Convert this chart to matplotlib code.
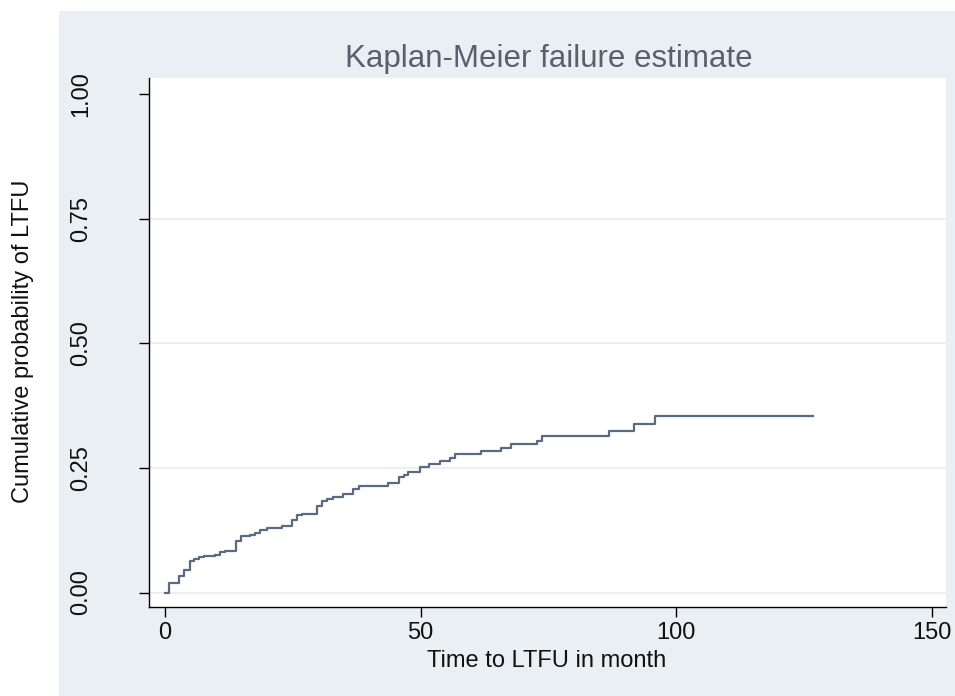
import matplotlib
matplotlib.use("Agg")
import matplotlib.pyplot as plt
from matplotlib.patches import Rectangle

# Step times (months) and cumulative failure probability after each step
times = [0, 0.7, 2.8, 3.8, 4.8, 5.7, 6.7, 7.7, 9.8, 10.8, 11.7, 13.9, 14.8, 16.6,
         17.6, 18.6, 19.9, 22.8, 24.8, 25.8, 26.8, 29.7, 30.7, 31.7, 32.8, 34.8,
         36.7, 37.9, 43.7, 45.7, 46.7, 47.6, 49.8, 51.7, 53.8, 55.8, 56.8, 61.8,
         65.8, 67.7, 72.8, 73.8, 86.8, 91.8, 95.9, 126.8]
cumprob = [0.0, 0.020, 0.033, 0.045, 0.063, 0.067, 0.071, 0.073, 0.076, 0.081,
           0.084, 0.103, 0.113, 0.116, 0.119, 0.125, 0.129, 0.133, 0.146, 0.156,
           0.158, 0.173, 0.184, 0.187, 0.191, 0.198, 0.208, 0.213, 0.219, 0.231,
           0.236, 0.241, 0.251, 0.258, 0.263, 0.269, 0.277, 0.283, 0.289, 0.297,
           0.304, 0.314, 0.324, 0.338, 0.354, 0.354]
xticks = [0, 50, 100, 150]
yticks = [0.0, 0.25, 0.5, 0.75, 1.0]
yticklabels = ["0.00", "0.25", "0.50", "0.75", "1.00"]

plt.rcParams['font.family'] = ['Liberation Sans', 'DejaVu Sans']

W, H = 955, 696
fig = plt.figure(figsize=(W / 100, H / 100), dpi=100, facecolor='white')
bg = Rectangle((59 / W, 0), 1 - 59 / W, 1 - 11 / H, transform=fig.transFigure,
               facecolor='#eaeff4', edgecolor='none', zorder=-10)
fig.patches.append(bg)

left, right, top, bottom = 149, 945.7, 78, 607
ax = fig.add_axes([left / W, 1 - bottom / H, (right - left) / W, (bottom - top) / H])
ax.set_facecolor('white')
for y in yticks[:-1]:
    ax.axhline(y, color='#eaeff4', lw=1.3, zorder=1)
ax.step(times, cumprob, where='post', color='#5a6a80', lw=1.6, zorder=3)

ax.set_xlim(-3.13, 152.75)
ax.set_ylim(-0.029, 1.032)
ax.set_xticks(xticks)
ax.set_yticks(yticks)
ax.set_yticklabels(yticklabels, rotation=90, va='center')
ax.tick_params(axis='both', direction='out', length=7, width=1, color='black',
               labelsize=17, labelcolor='#111111')
ax.tick_params(axis='x', pad=4)
ax.tick_params(axis='y', pad=34)
for s in ['top', 'right']:
    ax.spines[s].set_visible(False)
for s in ['left', 'bottom']:
    ax.spines[s].set_color('black')
    ax.spines[s].set_linewidth(1)

fig.text(547 / W, 1 - 667 / H, "Time to LTFU in month", ha='center', va='baseline',
         fontsize=17, color='#111111')
fig.text(23 / W, 1 - 341 / H, "Cumulative probability of LTFU", ha='center', va='center',
         rotation=90, fontsize=17, color='#111111')
fig.text(549 / W, 1 - 67 / H, "Kaplan-Meier failure estimate", ha='center', va='baseline',
         fontsize=22.5, color='#5a5f6e')

fig.savefig("out.png", dpi=100, facecolor=fig.get_facecolor())
